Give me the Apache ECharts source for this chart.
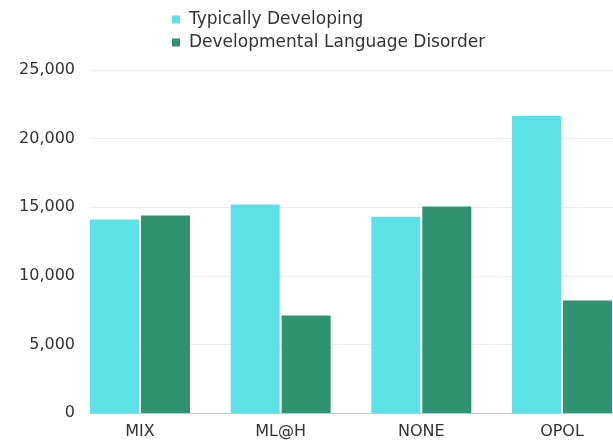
<!DOCTYPE html>
<html>
<head>
<meta charset="utf-8">
<script src="https://cdn.jsdelivr.net/npm/echarts@6/dist/echarts.min.js"></script>
<style>html,body{margin:0;padding:0;background:#fff}#c{width:613px;height:440px}</style>
</head>
<body>
<div id="c"></div>
<script>
const categories = ['MIX', 'ML@H', 'NONE', 'OPOL'];
const seriesNames = ['Typically Developing', 'Developmental Language Disorder'];
const typicallyDeveloping = [14100, 15200, 14300, 21650];
const languageDisorder = [14400, 7100, 15050, 8200];
const yTicks = [0, 5000, 10000, 15000, 20000, 25000];

const FONT = 'DejaVu Sans';
const chart = echarts.init(document.getElementById('c'), null, {renderer: 'canvas'});
const yMin = yTicks[0], yMax = yTicks[yTicks.length - 1], yStep = yTicks[1] - yTicks[0];

chart.setOption({
  animation: false,
  backgroundColor: '#ffffff',
  textStyle: {fontFamily: FONT},
  legend: {
    orient: 'vertical',
    left: 167,
    top: 6,
    icon: 'rect',
    itemWidth: 8,
    itemHeight: 8,
    itemGap: 6,
    textStyle: {fontFamily: FONT, fontSize: 17, color: '#333333', padding: [0, 0, 0, 4]},
    data: seriesNames
  },
  grid: [
    {left: 90, right: 0, top: 70, bottom: 27},
    {left: 140, right: 51, top: 70, bottom: 27}
  ],
  xAxis: [
    {
      type: 'category', gridIndex: 0, data: categories,
      axisLine: {lineStyle: {color: '#c8c8c8', width: 1}},
      axisTick: {show: false}, axisLabel: {show: false}
    },
    {
      type: 'category', gridIndex: 1, data: categories, boundaryGap: false,
      axisLine: {show: false}, axisTick: {show: false},
      axisLabel: {fontFamily: FONT, fontSize: 16, color: '#333333', margin: 11}
    }
  ],
  yAxis: [
    {
      type: 'value', gridIndex: 0, min: yMin, max: yMax, interval: yStep,
      axisLine: {show: false}, axisTick: {show: false},
      splitLine: {lineStyle: {color: '#ececec', width: 1}},
      axisLabel: {
        fontFamily: FONT, fontSize: 16, color: '#333333', margin: 15,
        formatter: v => v.toLocaleString('en-US')
      }
    },
    {
      type: 'value', gridIndex: 1, min: yMin, max: yMax, interval: yStep, show: false
    }
  ],
  series: [
    {
      name: seriesNames[0], type: 'bar', xAxisIndex: 1, yAxisIndex: 1, clip: false,
      data: typicallyDeveloping, barWidth: 49, barGap: '4%',
      itemStyle: {color: '#5CE1E6'}
    },
    {
      name: seriesNames[1], type: 'bar', xAxisIndex: 1, yAxisIndex: 1, clip: false,
      data: languageDisorder, barWidth: 49, barGap: '4%',
      itemStyle: {color: '#2E936E'}
    }
  ]
});
</script>
</body>
</html>
